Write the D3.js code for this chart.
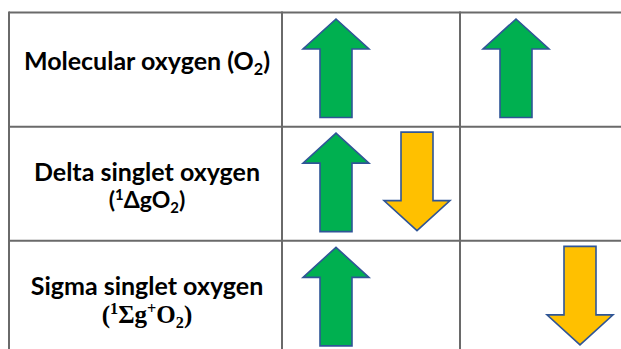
<!DOCTYPE html>
<html>
<head>
<meta charset="utf-8">
<script src="https://cdn.jsdelivr.net/npm/d3@7"></script>
<style>
  html, body { margin: 0; padding: 0; background: #fff; overflow: hidden; }
  svg { display: block; }
</style>
</head>
<body>
<svg id="chart" width="621" height="349"></svg>
<script>
// ---- data ----
const stateNames   = ["Molecular oxygen (O₂)", "Delta singlet oxygen", "Sigma singlet oxygen"];
const stateSymbols = ["", "(¹ΔgO₂)", "(¹Σg⁺O₂)"];
const orbitalA     = [["up"], ["up", "down"], ["up"]];
const orbitalB     = [["up"], [], ["down"]];
const columns      = ["label", "A", "B"];

// ---- layout ----
const svg = d3.select("#chart");
const W = 621, H = 349;

const rowY = d3.scaleBand().domain(stateNames).range([12.5, 355]).paddingInner(0).paddingOuter(0);
const colX = d3.scaleOrdinal().domain(["label", "A", "B", "end"]).range([9, 282, 460, 640]);
// arrow slot offsets inside each orbital cell
const slotX = {
  A: d3.scaleOrdinal().domain(["up", "down"]).range([54, 135]),
  B: d3.scaleOrdinal().domain(["up", "down"]).range([56, 120])
};

const lineColor = "#6a6a6a";
const green = "#00B050", yellow = "#FFC000", outline = "#2F5597";

// table lines
const g = svg.append("g");
const hLines = stateNames.map(s => rowY(s));
g.selectAll("line.h").data(hLines).join("line")
  .attr("class", "h")
  .attr("x1", colX("label")).attr("x2", W + 5)
  .attr("y1", d => d).attr("y2", d => d)
  .attr("stroke", lineColor).attr("stroke-width", 2);
g.selectAll("line.v").data(columns).join("line")
  .attr("class", "v")
  .attr("x1", d => colX(d)).attr("x2", d => colX(d))
  .attr("y1", rowY.range()[0] - 1).attr("y2", H + 5)
  .attr("stroke", lineColor).attr("stroke-width", 2);

// arrow path
function arrowPath(cx, top, len, dir) {
  const Wd = 66, S = 32, Hh = 30;
  const pts = dir === "up" ? [
    [cx, top], [cx + Wd / 2, top + Hh], [cx + S / 2, top + Hh], [cx + S / 2, top + len],
    [cx - S / 2, top + len], [cx - S / 2, top + Hh], [cx - Wd / 2, top + Hh]
  ] : [
    [cx - S / 2, top], [cx + S / 2, top], [cx + S / 2, top + len - Hh], [cx + Wd / 2, top + len - Hh],
    [cx, top + len], [cx - Wd / 2, top + len - Hh], [cx - S / 2, top + len - Hh]
  ];
  return d3.line()(pts) + "Z";
}

const arrows = [];
stateNames.forEach((s, i) => {
  orbitalA[i].forEach(d => arrows.push({ state: s, col: "A", dir: d }));
  orbitalB[i].forEach(d => arrows.push({ state: s, col: "B", dir: d }));
});

svg.append("g").selectAll("path").data(arrows).join("path")
  .attr("d", d => {
    const cx = colX(d.col) + slotX[d.col](d.dir);
    const top = rowY(d.state) + (d.dir === "up" ? 6.5 : 5.5);
    return arrowPath(cx, top, 98.5, d.dir);
  })
  .attr("fill", d => d.dir === "up" ? green : yellow)
  .attr("stroke", outline).attr("stroke-width", 1.6).attr("stroke-linejoin", "miter");

// text with sub/superscripts
function richText(sel, str, size) {
  const subMap = { "₂": "2" }, supMap = { "¹": "1", "⁺": "+" };
  let mode = "n";
  let buf = "";
  const parts = [];
  for (const ch of str) {
    const m = subMap[ch] ? "sub" : supMap[ch] ? "sup" : "n";
    const c = subMap[ch] || supMap[ch] || ch;
    if (m !== mode && buf) { parts.push({ m: mode, t: buf }); buf = ""; }
    mode = m; buf += c;
  }
  if (buf) parts.push({ m: mode, t: buf });
  let prev = "n";
  parts.forEach(p => {
    const off = { n: 0, sub: size * 0.2, sup: -size * 0.36 };
    const dy = off[p.m] - off[prev];
    sel.append("tspan")
      .attr("dy", dy)
      .attr("font-size", p.m === "n" ? size : size * 0.65)
      .text(p.t);
    prev = p.m;
  });
}

const cxLabel = (colX("label") + colX("A")) / 2 + 1.5;
const labelG = svg.append("g").attr("font-weight", "bold").attr("fill", "#000");
stateNames.forEach((s, i) => {
  const top = rowY(s);
  const hasSym = stateSymbols[i] !== "";
  const t1 = labelG.append("text")
    .attr("x", cxLabel)
    .attr("y", hasSym ? top + 54.5 : top + 57)
    .attr("text-anchor", "middle")
    .attr("font-family", "Lato, 'Open Sans', sans-serif");
  richText(t1, s, 25);
  if (hasSym) {
    const serif = stateSymbols[i].includes("Σ");
    const t2 = labelG.append("text")
      .attr("x", cxLabel)
      .attr("y", top + (serif ? 82 : 81.5))
      .attr("text-anchor", "middle")
      .attr("font-family", serif ? "'Liberation Serif', 'Times New Roman', serif" : "Lato, 'Open Sans', sans-serif");
    richText(t2, stateSymbols[i], serif ? 25 : 23);
  }
});
</script>
</body>
</html>
